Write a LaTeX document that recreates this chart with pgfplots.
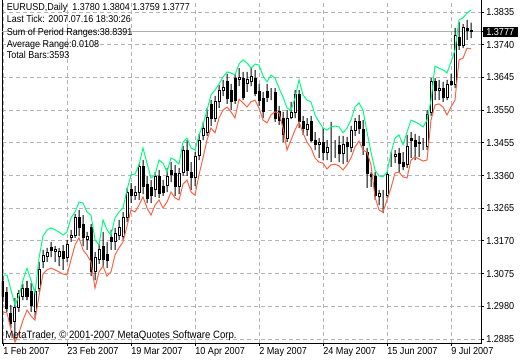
\documentclass[border=0pt]{standalone}
\usepackage{fontspec}
\setmainfont{Liberation Sans}[FakeStretch=0.9]
\usepackage{pgfplots}
\usepackage{pgfplotstable}
\pgfplotsset{compat=1.18}
\definecolor{mtgreen}{HTML}{00FF7F}
\definecolor{mtred}{HTML}{FF6347}
\definecolor{mtgrid}{HTML}{B4B4B4}
\definecolor{mtprice}{HTML}{B0B0B0}

\pgfplotstableread{
i O H L C G R
0 1.3051 1.3068 1.2993 1.3010 1.3071 1.2964
1 1.3019 1.3036 1.2964 1.2975 1.3071 1.2961
2 1.2958 1.2984 1.2917 1.2929 1.3027 1.2911
3 1.2935 1.3004 1.2882 1.2978 1.2984 1.2876
4 1.2978 1.3027 1.2964 1.3016 1.3010 1.2903
5 1.3010 1.3045 1.2998 1.3033 1.3056 1.2940
6 1.3033 1.3054 1.2998 1.3010 1.3091 1.2969
7 1.3022 1.3048 1.2964 1.2981 1.3056 1.2952
8 1.2964 1.3030 1.2946 1.3022 1.3019 1.2940
9 1.3033 1.3109 1.3022 1.3086 1.3120 1.3010
10 1.3109 1.3144 1.3091 1.3129 1.3184 1.3074
11 1.3126 1.3150 1.3109 1.3135 1.3202 1.3086
12 1.3152 1.3167 1.3123 1.3141 1.3208 1.3091
13 1.3138 1.3155 1.3109 1.3144 1.3202 1.3086
14 1.3126 1.3150 1.3097 1.3138 1.3196 1.3080
15 1.3138 1.3158 1.3086 1.3118 1.3187 1.3074
16 1.3123 1.3173 1.3109 1.3161 1.3196 1.3071
17 1.3181 1.3202 1.3167 1.3187 1.3237 1.3115
18 1.3187 1.3248 1.3179 1.3237 1.3254 1.3158
19 1.3237 1.3260 1.3184 1.3208 1.3283 1.3179
20 1.3219 1.3245 1.3155 1.3179 1.3280 1.3144
21 1.3173 1.3196 1.3144 1.3184 1.3254 1.3129
22 1.3208 1.3219 1.3068 1.3080 1.3245 1.3109
23 1.3080 1.3138 1.3056 1.3123 1.3173 1.3033
24 1.3115 1.3161 1.3103 1.3144 1.3158 1.3080
25 1.3155 1.3196 1.3097 1.3115 1.3231 1.3097
26 1.3132 1.3167 1.3091 1.3112 1.3202 1.3068
27 1.3179 1.3202 1.3144 1.3167 1.3187 1.3080
28 1.3167 1.3208 1.3144 1.3193 1.3237 1.3129
29 1.3187 1.3231 1.3173 1.3210 1.3254 1.3150
30 1.3184 1.3254 1.3173 1.3237 1.3266 1.3167
31 1.3237 1.3324 1.3225 1.3312 1.3318 1.3213
32 1.3318 1.3338 1.3280 1.3301 1.3362 1.3260
33 1.3301 1.3330 1.3289 1.3312 1.3364 1.3254
34 1.3312 1.3393 1.3289 1.3385 1.3391 1.3274
35 1.3385 1.3405 1.3306 1.3327 1.3440 1.3298
36 1.3335 1.3359 1.3280 1.3292 1.3396 1.3266
37 1.3324 1.3347 1.3280 1.3301 1.3353 1.3245
38 1.3318 1.3370 1.3298 1.3356 1.3362 1.3274
39 1.3356 1.3376 1.3295 1.3309 1.3405 1.3289
40 1.3327 1.3347 1.3301 1.3312 1.3396 1.3266
41 1.3330 1.3382 1.3312 1.3356 1.3370 1.3283
42 1.3376 1.3399 1.3341 1.3362 1.3411 1.3312
43 1.3367 1.3391 1.3301 1.3327 1.3405 1.3295
44 1.3327 1.3382 1.3306 1.3367 1.3393 1.3289
45 1.3370 1.3446 1.3359 1.3434 1.3457 1.3335
46 1.3434 1.3463 1.3359 1.3376 1.3469 1.3347
47 1.3370 1.3399 1.3318 1.3353 1.3440 1.3312
48 1.3353 1.3428 1.3330 1.3414 1.3434 1.3303
49 1.3417 1.3481 1.3405 1.3463 1.3478 1.3362
50 1.3475 1.3516 1.3463 1.3498 1.3507 1.3411
51 1.3486 1.3556 1.3475 1.3530 1.3550 1.3463
52 1.3565 1.3579 1.3504 1.3527 1.3594 1.3498
53 1.3527 1.3591 1.3516 1.3574 1.3608 1.3484
54 1.3574 1.3623 1.3556 1.3608 1.3626 1.3527
55 1.3608 1.3638 1.3591 1.3617 1.3646 1.3550
56 1.3632 1.3655 1.3568 1.3585 1.3661 1.3559
57 1.3608 1.3626 1.3550 1.3574 1.3658 1.3545
58 1.3643 1.3655 1.3568 1.3579 1.3652 1.3527
59 1.3638 1.3672 1.3620 1.3646 1.3684 1.3582
60 1.3643 1.3661 1.3579 1.3588 1.3696 1.3571
61 1.3626 1.3661 1.3603 1.3638 1.3687 1.3559
62 1.3632 1.3672 1.3620 1.3649 1.3672 1.3574
63 1.3643 1.3667 1.3591 1.3597 1.3684 1.3579
64 1.3603 1.3626 1.3562 1.3579 1.3681 1.3556
65 1.3585 1.3603 1.3527 1.3545 1.3649 1.3521
66 1.3603 1.3626 1.3574 1.3588 1.3632 1.3513
67 1.3594 1.3614 1.3579 1.3594 1.3652 1.3536
68 1.3600 1.3614 1.3516 1.3527 1.3643 1.3545
69 1.3545 1.3562 1.3507 1.3521 1.3614 1.3542
70 1.3527 1.3545 1.3457 1.3478 1.3588 1.3498
71 1.3469 1.3550 1.3457 1.3527 1.3556 1.3434
72 1.3530 1.3574 1.3524 1.3542 1.3550 1.3463
73 1.3542 1.3608 1.3527 1.3594 1.3585 1.3492
74 1.3594 1.3608 1.3498 1.3516 1.3638 1.3516
75 1.3516 1.3533 1.3478 1.3498 1.3594 1.3484
76 1.3495 1.3527 1.3475 1.3507 1.3579 1.3457
77 1.3516 1.3533 1.3457 1.3463 1.3574 1.3440
78 1.3463 1.3486 1.3434 1.3449 1.3536 1.3411
79 1.3449 1.3469 1.3411 1.3455 1.3516 1.3399
80 1.3455 1.3498 1.3405 1.3428 1.3498 1.3396
81 1.3428 1.3463 1.3405 1.3440 1.3492 1.3379
82 1.3443 1.3516 1.3399 1.3443 1.3501 1.3391
83 1.3443 1.3463 1.3411 1.3443 1.3504 1.3393
84 1.3446 1.3475 1.3399 1.3425 1.3501 1.3388
85 1.3425 1.3475 1.3393 1.3449 1.3484 1.3376
86 1.3455 1.3472 1.3399 1.3443 1.3498 1.3391
87 1.3440 1.3504 1.3428 1.3492 1.3521 1.3411
88 1.3492 1.3527 1.3475 1.3516 1.3559 1.3443
89 1.3516 1.3536 1.3481 1.3498 1.3571 1.3460
90 1.3495 1.3521 1.3420 1.3446 1.3550 1.3434
91 1.3428 1.3440 1.3324 1.3367 1.3486 1.3428
92 1.3362 1.3370 1.3327 1.3356 1.3428 1.3391
93 1.3356 1.3370 1.3289 1.3303 1.3376 1.3298
94 1.3298 1.3318 1.3274 1.3309 1.3359 1.3260
95 1.3306 1.3318 1.3251 1.3306 1.3356 1.3254
96 1.3303 1.3370 1.3295 1.3362 1.3370 1.3289
97 1.3417 1.3428 1.3385 1.3417 1.3425 1.3324
98 1.3414 1.3434 1.3396 1.3420 1.3469 1.3367
99 1.3423 1.3440 1.3370 1.3396 1.3478 1.3370
100 1.3399 1.3428 1.3376 1.3385 1.3449 1.3356
101 1.3391 1.3478 1.3382 1.3443 1.3486 1.3353
102 1.3469 1.3486 1.3411 1.3463 1.3521 1.3405
103 1.3463 1.3481 1.3405 1.3443 1.3516 1.3414
104 1.3455 1.3475 1.3414 1.3452 1.3510 1.3408
105 1.3449 1.3469 1.3434 1.3449 1.3501 1.3402
106 1.3443 1.3550 1.3434 1.3536 1.3521 1.3405
107 1.3542 1.3643 1.3533 1.3632 1.3579 1.3521
108 1.3632 1.3643 1.3579 1.3608 1.3678 1.3565
109 1.3608 1.3638 1.3579 1.3614 1.3672 1.3568
110 1.3614 1.3632 1.3574 1.3588 1.3667 1.3559
111 1.3588 1.3638 1.3579 1.3623 1.3658 1.3536
112 1.3632 1.3655 1.3620 1.3623 1.3690 1.3559
113 1.3623 1.3789 1.3614 1.3768 1.3725 1.3579
114 1.3762 1.3806 1.3725 1.3739 1.3812 1.3696
115 1.3739 1.3800 1.3730 1.3789 1.3818 1.3701
116 1.3786 1.3812 1.3754 1.3780 1.3832 1.3730
117 1.3780 1.3804 1.3759 1.3777 1.3841 1.3728
}\bars

\begin{document}
\begin{tikzpicture}
\path[use as bounding box] (0,0) rectangle (390pt,270pt);
\pgfplotsset{mtaxis/.style={at={(1.5pt,12.75pt)}, anchor=south west,
  scale only axis, width=359.25pt, height=257.25pt,
  xmin=-0.25, xmax=119.5, ymin=1.28735, ymax=1.38699}}
% frame, grid, ticks
\begin{axis}[mtaxis,
  axis line style={black, line width=0.75pt},
  xtick={0,16,32,48,64,80,96,112},
  xticklabels={1 Feb 2007,23 Feb 2007,19 Mar 2007,10 Apr 2007,2 May 2007,24 May 2007,15 Jun 2007,9 Jul 2007},
  ytick={1.2885,1.2980,1.3075,1.3170,1.3265,1.3360,1.3455,1.3550,1.3645,1.3740,1.3835},
  yticklabels={1.2885,1.2980,1.3075,1.3170,1.3265,1.3360,1.3455,1.3550,1.3645,1.3740,1.3835},
  xtick pos=left, ytick pos=right, xticklabel pos=left, yticklabel pos=right,
  tick align=outside, major tick length=2.25pt,
  tick style={black, line width=0.75pt},
  grid=major,
  major grid style={draw=mtgrid, line width=0.75pt, dash pattern=on 3pt off 2.25pt},
  tick label style={font=\fontsize{7.6}{9}\selectfont},
  xticklabel style={anchor=north west, inner sep=0pt, yshift=-0.8pt},
  yticklabel style={anchor=west, inner sep=0pt, xshift=1.5pt},
  extra y ticks={1.3777}, extra y tick labels={1.3777},
  extra y tick style={grid=major, major grid style={draw=mtprice, solid, line width=0.75pt},
    yticklabel style={fill=black, text=white, inner xsep=2.5pt, inner ysep=1pt, xshift=-2.5pt}},
]
\addplot[draw=none, forget plot] coordinates {(0,1.33)};
\end{axis}
% candles
\begin{axis}[mtaxis, hide axis, ybar stacked, bar width=1.5pt]
\addplot[draw=none, fill=none] table[x=i, y=L] {\bars};
\addplot[fill=black, draw=none, bar width=0.75pt] table[x=i, y expr={min(\thisrow{O},\thisrow{C})-\thisrow{L}}] {\bars};
\addplot[fill=white, draw=black, line width=0.75pt] table[x=i, y expr={max(\thisrow{C}-\thisrow{O},0)}] {\bars};
\addplot[fill=black, draw=black, line width=0.75pt] table[x=i, y expr={max(\thisrow{O}-\thisrow{C},0)}] {\bars};
\addplot[fill=black, draw=none, bar width=0.75pt] table[x=i, y expr={\thisrow{H}-max(\thisrow{O},\thisrow{C})}] {\bars};
\end{axis}
% envelope lines
\begin{axis}[mtaxis, hide axis]
\addplot[mtgreen, line width=0.75pt, mark=none] table[x=i, y=G] {\bars};
\addplot[mtred, line width=0.75pt, mark=none] table[x=i, y=R] {\bars};
\end{axis}
% texts
\begin{scope}[every node/.style={anchor=base west, inner sep=0pt, font=\fontsize{7.5}{9}\selectfont}]
\node at (4.9pt,261.75pt) {EURUSD,Daily\ \ 1.3780 1.3804 1.3759 1.3777};
\node at (4.9pt,252.75pt) {Last Tick: 2007.07.16 18:30:26};
\node at (4.9pt,243.4pt) {Sum of Period Ranges:38.8391};
\node at (4.9pt,234.4pt) {Average Range:0.0108};
\node at (4.9pt,225.75pt) {Total Bars:3593};
\node[font=\fontsize{8}{9}\selectfont] at (3.75pt,16.3pt) {MetaTrader, \textcopyright{} 2001-2007 MetaQuotes Software Corp.};
\end{scope}
\end{tikzpicture}
\end{document}
